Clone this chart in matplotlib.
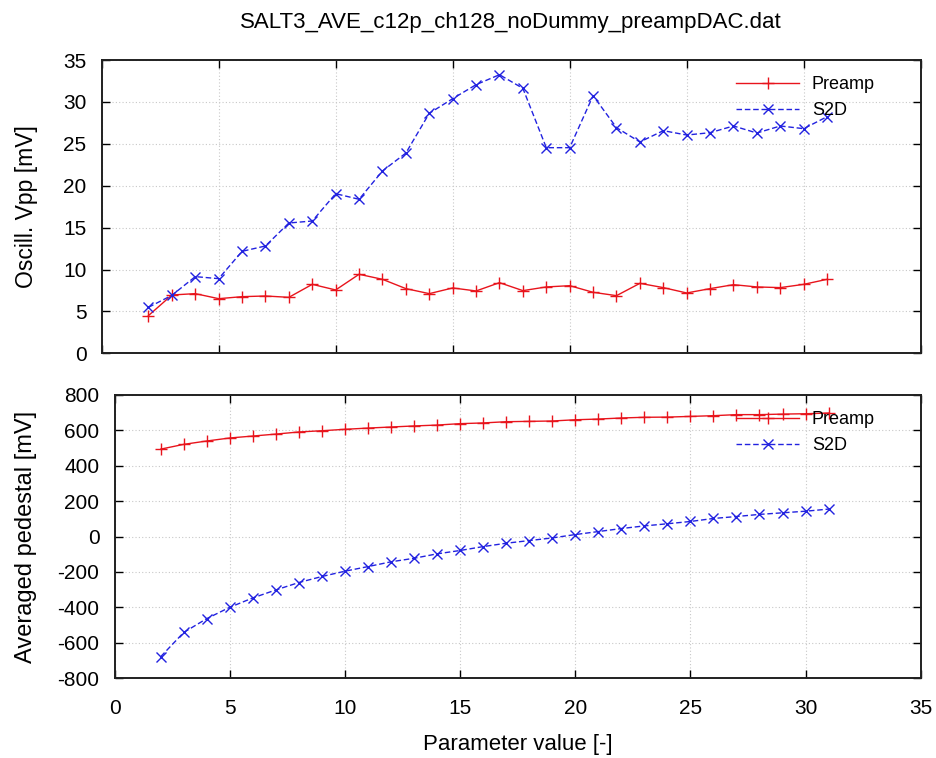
import matplotlib
matplotlib.use("Agg")
import matplotlib.pyplot as plt
from matplotlib.ticker import MultipleLocator

plt.rcParams['font.family'] = ['Liberation Sans', 'DejaVu Sans']
plt.rcParams['axes.unicode_minus'] = False

title = "SALT3_AVE_c12p_ch128_noDummy_preampDAC.dat"
x_param = list(range(2, 32))

vpp_preamp = [4.5, 6.96, 7.12, 6.52, 6.76, 6.84, 6.68, 8.23, 7.56, 9.43,
              8.83, 7.72, 7.12, 7.8, 7.44, 8.43, 7.48, 7.92, 8.07, 7.28,
              6.88, 8.35, 7.84, 7.2, 7.72, 8.19, 7.92, 7.84, 8.23, 8.83]
vpp_s2d = [5.49, 6.92, 9.15, 8.91, 12.17, 12.81, 15.55, 15.79, 19.05, 18.38,
           21.76, 23.9, 28.64, 30.39, 32.06, 33.25, 31.62, 24.54, 24.54, 30.75,
           26.93, 25.22, 26.57, 26.05, 26.33, 27.13, 26.29, 27.13, 26.81, 28.24]

ped_preamp = [494, 521, 540, 557, 568, 579, 591, 598, 606, 613,
              619, 625, 630, 638, 642, 649, 651, 653, 660, 664,
              670, 674, 675, 679, 683, 689, 689, 692, 694, 698]
ped_s2d = [-679, -542, -464, -400, -347, -302, -260, -226, -196, -170,
           -143, -123, -98, -79, -57, -38, -23, -8, 11, 28,
           45, 60, 72, 85, 102, 113, 125, 134, 143, 155]

series_labels = ["Preamp", "S2D"]
red = "#e8141c"
blue = "#2222e0"

fig = plt.figure(figsize=(9.37, 7.58), dpi=100)
ax1 = fig.add_axes([0.1085, 0.5339, 0.8741, 0.3869])
ax2 = fig.add_axes([0.1224, 0.1055, 0.8602, 0.3734])

fs = 15

def style(ax):
    ax.grid(True, linestyle=(0, (1, 2)), color="#c8c8c8", linewidth=0.8)
    ax.set_axisbelow(True)
    ax.tick_params(direction="in", top=True, right=True, length=6, width=1,
                   labelsize=fs)
    ax.tick_params(axis="y", pad=11)
    ax.tick_params(axis="x", pad=15)
    for s in ax.spines.values():
        s.set_linewidth(1.4)
        s.set_color("#202020")
    ax.set_xlim(0, 35)
    ax.xaxis.set_major_locator(MultipleLocator(5))

for ax, ya, yb, anchor in [(ax1, vpp_preamp, vpp_s2d, (0.944, 0.946)),
                           (ax2, ped_preamp, ped_s2d, (0.943, 0.943))]:
    ax.plot(x_param, ya, color=red, linestyle="-", linewidth=1.0, marker="+",
            markersize=9, markeredgewidth=1.0, label=series_labels[0])
    ax.plot(x_param, yb, color=blue, linestyle=(0, (4, 2)), linewidth=1.0, marker="x",
            markersize=7, markeredgewidth=1.0, label=series_labels[1])
    style(ax)
    ax.legend(loc="upper right", frameon=False, fontsize=13, handlelength=3.5,
              handletextpad=0.7, borderaxespad=0.0, borderpad=0.0, labelspacing=0.5,
              bbox_to_anchor=anchor)

ax1.set_ylim(0, 35)
ax1.yaxis.set_major_locator(MultipleLocator(5))
ax1.tick_params(labelbottom=False)
ax2.set_ylim(-800, 800)
ax2.yaxis.set_major_locator(MultipleLocator(200))

ax1.set_title(title, fontsize=16, pad=23)
ax1.set_ylabel("Oscill. Vpp [mV]", fontsize=16.5)
ax2.set_ylabel("Averaged pedestal [mV]", fontsize=17)
ax2.set_xlabel("Parameter value [-]", fontsize=16)
ax1.yaxis.set_label_coords(-0.078, 0.5)
ax2.yaxis.set_label_coords(-0.096, 0.5)
ax2.xaxis.set_label_coords(0.5, -0.198)

fig.savefig("out.png", dpi=100)
